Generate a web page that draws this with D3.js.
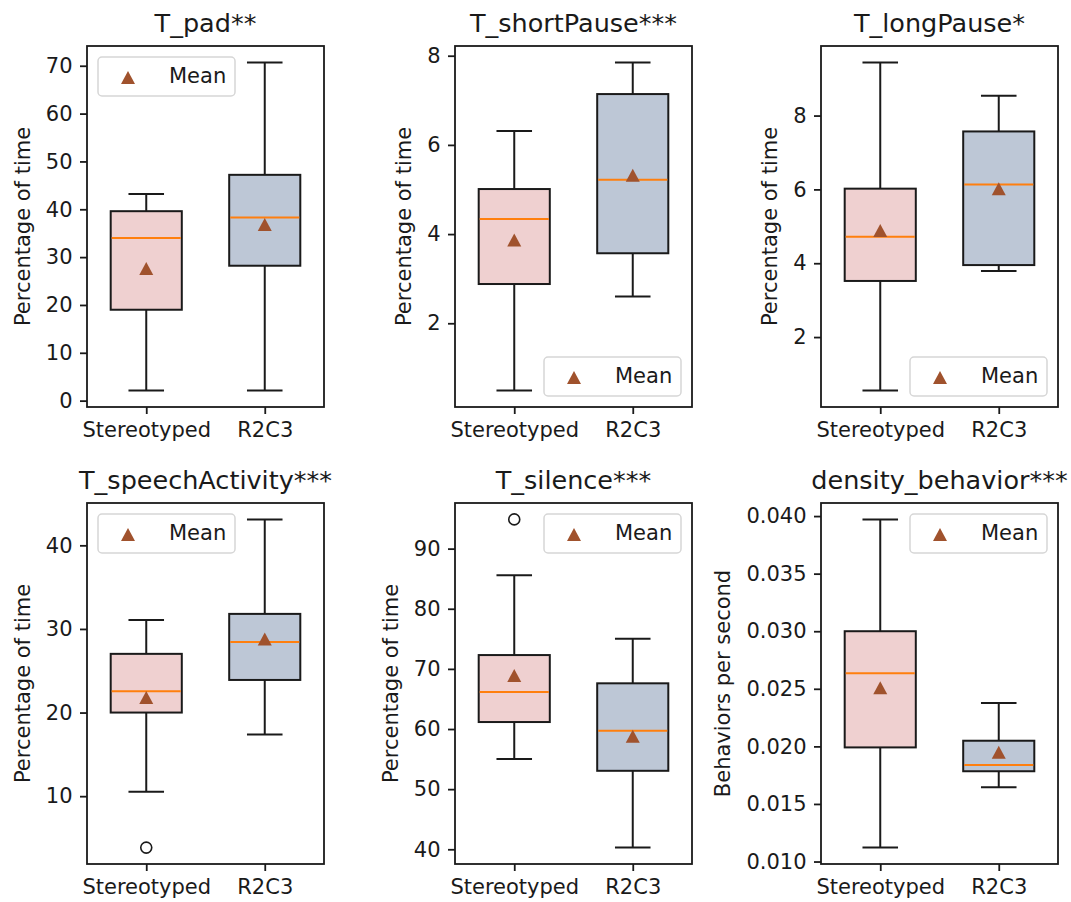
<!DOCTYPE html>
<html>
<head>
<meta charset="utf-8">
<script src="https://cdn.jsdelivr.net/npm/d3@7"></script>
<style>
  body { margin: 0; background: #fff; }
  text { font-family: "DejaVu Sans", sans-serif; fill: #1a1a1a; }
</style>
</head>
<body>
<div id="chart"></div>
<script>
// Data: one entry per panel, [Stereotyped, R2C3]
var categories = ["Stereotyped", "R2C3"];
var titles = ["T_pad**", "T_shortPause***", "T_longPause*", "T_speechActivity***", "T_silence***", "density_behavior***"];
var yLabels = ["Percentage of time", "Percentage of time", "Percentage of time",
               "Percentage of time", "Percentage of time", "Behaviors per second"];
var whiskerLow  = [[2.1, 2.1], [0.49, 2.6], [0.55, 3.79], [10.52, 17.39], [55.0, 40.28], [0.01121, 0.01645]];
var q1          = [[19.0, 28.2], [2.88, 3.57], [3.52, 3.95], [20.0, 23.9], [61.16, 53.05], [0.01991, 0.01784]];
var medians     = [[34.0, 38.3], [4.34, 5.22], [4.72, 6.13], [22.54, 28.45], [66.14, 59.72], [0.02636, 0.01839]];
var q3          = [[39.6, 47.2], [5.01, 7.14], [6.02, 7.57], [27.02, 31.8], [72.3, 67.6], [0.0300, 0.02049]];
var whiskerHigh = [[43.2, 70.7], [6.31, 7.85], [9.44, 8.54], [31.07, 43.1], [85.57, 75.0], [0.03971, 0.02376]];
var means       = [[27.6, 36.8], [3.87, 5.32], [4.89, 6.02], [21.8, 28.8], [68.9, 58.8], [0.0251, 0.01948]];
var outliers    = [[[], []], [[], []], [[], []], [[3.85], []], [[94.86], []], [[], []]];
var yTicks = [
    [0, 10, 20, 30, 40, 50, 60, 70],
    [2, 4, 6, 8],
    [2, 4, 6, 8],
    [10, 20, 30, 40],
    [40, 50, 60, 70, 80, 90],
    [0.010, 0.015, 0.020, 0.025, 0.030, 0.035, 0.040]
];
var legendLoc = ["upper left", "lower right", "lower right", "upper left", "upper right", "upper right"];

// Layout constants
var colLeft = [87, 455, 821];
var rowTop = [46, 503];
var plotW = 237;
var plotH = 361;
var boxColors = ["#efd0d0", "#bdc7d6"];
var meanColor = "#a0522d";
var medianColor = "#ff7f0e";
var fontSize = 21;

var svg = d3.select("#chart").append("svg")
    .attr("width", 1071)
    .attr("height", 902);

var xScale = d3.scalePoint()
    .domain(categories)
    .range([0, plotW])
    .padding(0.5);
var boxW = xScale.step() * 0.6;
var capW = boxW / 2;

// matplotlib style triangle marker, centred on its bounding box
function triangle(cx, cy) {
    return "M" + cx + "," + (cy - 6.5) + "L" + (cx + 7) + "," + (cy + 6.5) + "L" + (cx - 7) + "," + (cy + 6.5) + "Z";
}

titles.forEach(function(title, p) {
    var ox = colLeft[p % 3];
    var oy = rowTop[Math.floor(p / 3)];
    var g = svg.append("g").attr("transform", "translate(" + [ox, oy] + ")");

    // y domain with 5% margin like matplotlib autoscale
    var vals = whiskerLow[p].concat(whiskerHigh[p], means[p], outliers[p][0], outliers[p][1]);
    var lo = d3.min(vals), hi = d3.max(vals), pad = (hi - lo) * 0.05;
    var yScale = d3.scaleLinear()
        .domain([lo - pad, hi + pad])
        .range([plotH, 0]);

    var fmt = p == 5 ? d3.format(".3f") : d3.format("d");

    // axes
    var yAxisG = g.append("g")
        .call(d3.axisLeft(yScale).tickValues(yTicks[p]).tickFormat(fmt).tickSize(7).tickPadding(7.5));
    var xAxisG = g.append("g")
        .attr("transform", "translate(0," + plotH + ")")
        .call(d3.axisBottom(xScale).tickSize(7).tickPadding(8));
    [yAxisG, xAxisG].forEach(function(ax) {
        ax.select(".domain").remove();
        ax.selectAll(".tick line").attr("stroke", "#1a1a1a").attr("stroke-width", 1.8);
        ax.selectAll(".tick text").style("font-size", fontSize + "px").style("font-family", "DejaVu Sans");
    });

    // boxes
    categories.forEach(function(c, i) {
        var cx = xScale(c);
        // whiskers
        g.append("line")
            .attr("x1", cx).attr("x2", cx)
            .attr("y1", yScale(whiskerHigh[p][i])).attr("y2", yScale(q3[p][i]))
            .attr("stroke", "#1a1a1a").attr("stroke-width", 2);
        g.append("line")
            .attr("x1", cx).attr("x2", cx)
            .attr("y1", yScale(q1[p][i])).attr("y2", yScale(whiskerLow[p][i]))
            .attr("stroke", "#1a1a1a").attr("stroke-width", 2);
        [whiskerHigh[p][i], whiskerLow[p][i]].forEach(function(v) {
            g.append("line")
                .attr("x1", cx - capW / 2).attr("x2", cx + capW / 2)
                .attr("y1", yScale(v)).attr("y2", yScale(v))
                .attr("stroke", "#1a1a1a").attr("stroke-width", 2);
        });
        g.append("rect")
            .attr("x", cx - boxW / 2)
            .attr("y", yScale(q3[p][i]))
            .attr("width", boxW)
            .attr("height", yScale(q1[p][i]) - yScale(q3[p][i]))
            .attr("fill", boxColors[i])
            .attr("stroke", "#1a1a1a")
            .attr("stroke-width", 2);
        g.append("line")
            .attr("x1", cx - boxW / 2 + 1).attr("x2", cx + boxW / 2 - 1)
            .attr("y1", yScale(medians[p][i])).attr("y2", yScale(medians[p][i]))
            .attr("stroke", medianColor).attr("stroke-width", 2);
        g.selectAll(null)
            .data(outliers[p][i])
            .enter()
            .append("circle")
            .attr("cx", cx)
            .attr("cy", d => yScale(d))
            .attr("r", 5.5)
            .attr("fill", "none")
            .attr("stroke", "#1a1a1a")
            .attr("stroke-width", 1.6);
        g.append("path")
            .attr("d", triangle(cx, yScale(means[p][i])))
            .attr("fill", meanColor);
    });

    // spines
    g.append("rect")
        .attr("width", plotW)
        .attr("height", plotH)
        .attr("fill", "none")
        .attr("stroke", "#1a1a1a")
        .attr("stroke-width", 1.8);

    // title
    g.append("text")
        .attr("x", plotW / 2)
        .attr("y", -14)
        .attr("text-anchor", "middle")
        .style("font-size", "25.5px")
        .text(title);

    // y label, placed left of the tick labels
    var bb = yAxisG.node().getBBox();
    var lx = bb.x - 16;
    g.append("text")
        .attr("transform", "translate(" + [lx, plotH / 2] + ") rotate(-90)")
        .attr("text-anchor", "middle")
        .style("font-size", fontSize + "px")
        .text(yLabels[p]);

    // legend
    var legW = 137, legH = 39, inset = 11;
    var lgx = legendLoc[p].indexOf("left") >= 0 ? inset : plotW - inset - legW;
    var lgy = legendLoc[p].indexOf("upper") >= 0 ? inset : plotH - inset - legH;
    var leg = g.append("g").attr("transform", "translate(" + [lgx, lgy] + ")");
    leg.append("rect")
        .attr("width", legW)
        .attr("height", legH)
        .attr("rx", 4)
        .attr("fill", "#fff")
        .attr("fill-opacity", 0.8)
        .attr("stroke", "#d6d6d6")
        .attr("stroke-width", 1.5);
    leg.append("path")
        .attr("d", triangle(30, legH / 2 + 1))
        .attr("fill", meanColor);
    leg.append("text")
        .attr("x", 71)
        .attr("y", legH / 2 + 6)
        .style("font-size", fontSize + "px")
        .text("Mean");
});
</script>
</body>
</html>
